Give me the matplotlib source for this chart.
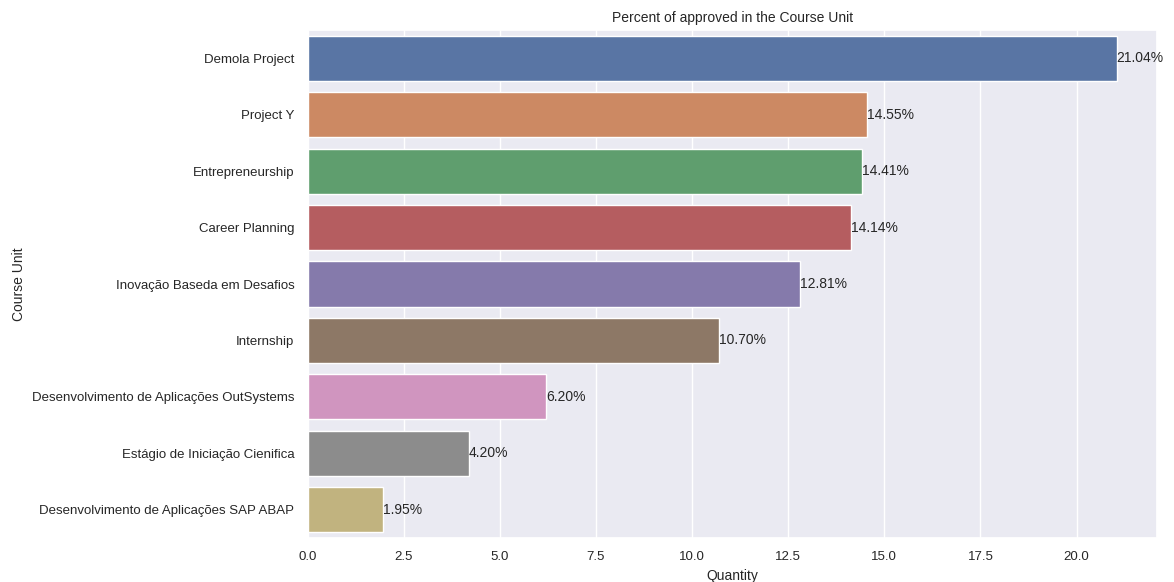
import matplotlib
matplotlib.use("Agg")
import matplotlib.pyplot as plt
import seaborn as sns

courses = [
    "Demola Project",
    "Project Y",
    "Entrepreneurship",
    "Career Planning",
    "Inovação Baseda em Desafios",
    "Internship",
    "Desenvolvimento de Aplicações OutSystems",
    "Estágio de Iniciação Cienifica",
    "Desenvolvimento de Aplicações SAP ABAP",
]
percent = [21.04, 14.55, 14.41, 14.14, 12.81, 10.70, 6.20, 4.20, 1.95]

sns.set_theme(style="darkgrid")
plt.rcParams["font.family"] = ["Liberation Sans", "DejaVu Sans"]

fig = plt.figure(figsize=(11.74, 5.82), dpi=100)
ax = fig.add_axes([0.262, 0.076, 0.7235, 0.872])

sns.barplot(x=percent, y=courses, hue=courses, palette="deep", legend=False,
            orient="h", ax=ax, saturation=0.75)

for i, v in enumerate(percent):
    ax.text(v, i, f"{v:.2f}%", va="center", ha="left", fontsize=10, color="#262626")

ax.set_xlim(0, max(percent) * 1.05)
ax.set_title("Percent of approved in the Course Unit", fontsize=10)
ax.set_xlabel("Quantity", fontsize=10, labelpad=4)
ax.set_ylabel("Course Unit", fontsize=10)
ax.tick_params(labelsize=9.5)

fig.savefig("out.png", dpi=100)
